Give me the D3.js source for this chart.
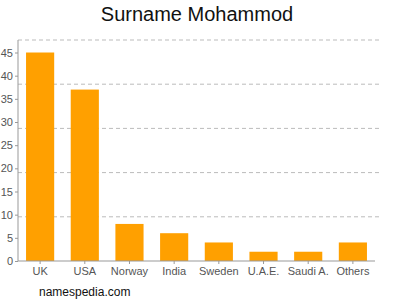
<!DOCTYPE html>
<html>
<head>
<meta charset="utf-8">
<script src="https://cdn.jsdelivr.net/npm/d3@7"></script>
<style>
  body { margin: 0; background: #fff; }
  svg { font-family: "Liberation Sans", Arial, sans-serif; }
</style>
</head>
<body>
<svg id="chart" width="400" height="300"></svg>
<script>
const countries = ["UK", "USA", "Norway", "India", "Sweden", "U.A.E.", "Saudi A.", "Others"];
const counts = [45, 37, 8, 6, 4, 2, 2, 4];
const yTicks = [0, 5, 10, 15, 20, 25, 30, 35, 40, 45];

const margin = { top: 40, right: 25, bottom: 39, left: 18 };
const width = 400, height = 300;
const plotW = width - margin.left - margin.right;
const plotH = height - margin.top - margin.bottom;

const svg = d3.select("#chart");

const x = d3.scaleBand()
    .domain(countries)
    .range([0, plotW])
    .paddingInner(0.37)
    .paddingOuter(0.18);
const y = d3.scaleLinear()
    .domain([0, 47.7])
    .range([plotH, 0]);

const g = svg.append("g")
    .attr("transform", `translate(${margin.left}, ${margin.top})`);

// dashed grid, 5 equal bands
g.selectAll("line.grid")
    .data(d3.range(0, 5))
    .join("line")
    .attr("class", "grid")
    .attr("x1", 0)
    .attr("x2", plotW + 7)
    .attr("y1", d => d * plotH / 5)
    .attr("y2", d => d * plotH / 5)
    .attr("stroke", "#bbb")
    .attr("stroke-dasharray", "4,3");

g.selectAll("rect")
    .data(countries)
    .join("rect")
    .attr("x", d => x(d))
    .attr("y", (d, i) => y(counts[i]))
    .attr("width", x.bandwidth())
    .attr("height", (d, i) => plotH - y(counts[i]))
    .attr("fill", "#ffa000");

// y axis
const yAxis = g.append("g")
    .call(d3.axisLeft(y).tickValues(yTicks).tickSize(3).tickPadding(2));
yAxis.select(".domain").attr("stroke", "#999").attr("d", `M0,0V${plotH}`);
yAxis.selectAll(".tick line").attr("stroke", "#999");
yAxis.selectAll("text").attr("fill", "#555").attr("font-size", 11);

// x axis
const xAxis = g.append("g")
    .attr("transform", `translate(0, ${plotH})`)
    .call(d3.axisBottom(x).tickSize(3).tickPadding(3));
xAxis.select(".domain").attr("stroke", "#999").attr("d", `M0,0H${plotW}`);
xAxis.selectAll(".tick line").attr("stroke", "#999");
xAxis.selectAll("text").attr("fill", "#555").attr("font-size", 11);

svg.append("text")
    .attr("x", 197)
    .attr("y", 21)
    .attr("text-anchor", "middle")
    .attr("font-size", 20)
    .attr("fill", "#111")
    .text("Surname Mohammod");

svg.append("text")
    .attr("x", 39)
    .attr("y", 296)
    .attr("font-size", 12)
    .attr("fill", "#111")
    .text("namespedia.com");
</script>
</body>
</html>
